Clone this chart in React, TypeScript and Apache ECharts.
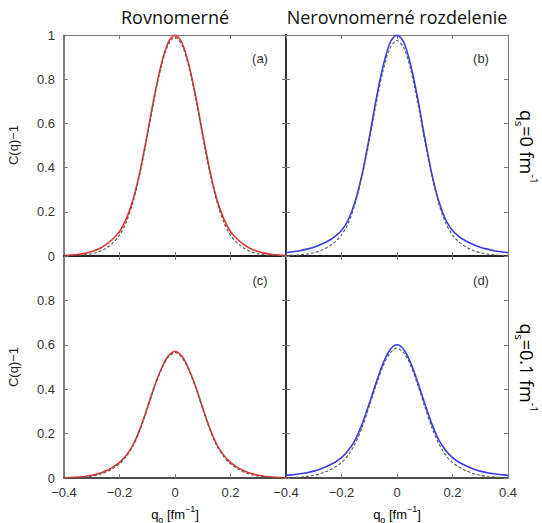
import React, { useEffect, useRef } from 'react';
import * as echarts from 'echarts';

const qValues = [-0.4, -0.375, -0.35, -0.325, -0.3, -0.275, -0.25, -0.225, -0.2, -0.175, -0.15, -0.125, -0.1, -0.075, -0.05, -0.025, 0, 0.025, 0.05, 0.075, 0.1, 0.125, 0.15, 0.175, 0.2, 0.225, 0.25, 0.275, 0.3, 0.325, 0.35, 0.375, 0.4];

const redA = [0.002, 0.004, 0.007, 0.012, 0.02, 0.032, 0.05, 0.076, 0.11, 0.17, 0.26, 0.39, 0.55, 0.72, 0.865, 0.965, 1.0, 0.965, 0.865, 0.72, 0.55, 0.39, 0.26, 0.17, 0.11, 0.076, 0.05, 0.032, 0.02, 0.012, 0.007, 0.004, 0.002];
const dashA = [0.0, 0.001, 0.002, 0.005, 0.01, 0.019, 0.034, 0.058, 0.094, 0.155, 0.25, 0.38, 0.54, 0.71, 0.855, 0.955, 0.99, 0.955, 0.855, 0.71, 0.54, 0.38, 0.25, 0.155, 0.094, 0.058, 0.034, 0.019, 0.01, 0.005, 0.002, 0.001, 0.0];
const blueB = [0.015, 0.019, 0.024, 0.031, 0.04, 0.052, 0.067, 0.087, 0.115, 0.165, 0.25, 0.375, 0.535, 0.71, 0.86, 0.965, 1.0, 0.965, 0.86, 0.71, 0.535, 0.375, 0.25, 0.165, 0.115, 0.087, 0.067, 0.052, 0.04, 0.031, 0.024, 0.019, 0.015];
const dashB = [0.002, 0.003, 0.005, 0.009, 0.015, 0.025, 0.04, 0.062, 0.095, 0.15, 0.24, 0.365, 0.52, 0.69, 0.84, 0.94, 0.975, 0.94, 0.84, 0.69, 0.52, 0.365, 0.24, 0.15, 0.095, 0.062, 0.04, 0.025, 0.015, 0.009, 0.005, 0.003, 0.002];
const redC = [0.001, 0.002, 0.004, 0.007, 0.012, 0.02, 0.032, 0.048, 0.07, 0.103, 0.152, 0.225, 0.315, 0.41, 0.49, 0.548, 0.57, 0.548, 0.49, 0.41, 0.315, 0.225, 0.152, 0.103, 0.07, 0.048, 0.032, 0.02, 0.012, 0.007, 0.004, 0.002, 0.001];
const dashC = [0.0, 0.001, 0.002, 0.004, 0.008, 0.015, 0.026, 0.042, 0.064, 0.097, 0.147, 0.22, 0.31, 0.405, 0.485, 0.543, 0.565, 0.543, 0.485, 0.405, 0.31, 0.22, 0.147, 0.097, 0.064, 0.042, 0.026, 0.015, 0.008, 0.004, 0.002, 0.001, 0.0];
const blueD = [0.012, 0.015, 0.019, 0.024, 0.031, 0.041, 0.054, 0.07, 0.092, 0.125, 0.173, 0.245, 0.335, 0.43, 0.517, 0.578, 0.60, 0.578, 0.517, 0.43, 0.335, 0.245, 0.173, 0.125, 0.092, 0.07, 0.054, 0.041, 0.031, 0.024, 0.019, 0.015, 0.012];
const dashD = [0.001, 0.002, 0.004, 0.007, 0.012, 0.02, 0.032, 0.048, 0.07, 0.104, 0.156, 0.23, 0.322, 0.418, 0.505, 0.563, 0.585, 0.563, 0.505, 0.418, 0.322, 0.23, 0.156, 0.104, 0.07, 0.048, 0.032, 0.02, 0.012, 0.007, 0.004, 0.002, 0.001];

const columnTitles = ['Rovnomerné', 'Nerovnomerné rozdelenie'];
const panelLabels = ['(a)', '(b)', '(c)', '(d)'];
const rowLabels = ['0', '0.1'];

const RED = '#e8302f';
const BLUE = '#3a3af0';
const GRAY = '#555555';
const LABEL_FONT = 'Liberation Sans, Arial, sans-serif';
const TITLE_FONT = 'Open Sans, Noto Sans, sans-serif';

const pair = (ys: number[]) => qValues.map((q, i) => [q, ys[i]]);

const fmt = (v: number) => {
  const r = Math.round(v * 10) / 10;
  if (r === 0) return '0';
  return r < 0 ? '\u2212' + String(Math.abs(r)) : String(r);
};

export default function App() {
  const ref = useRef<HTMLDivElement>(null);
  useEffect(() => {
    if (!ref.current) return;
    const chart = echarts.init(ref.current, undefined, { renderer: 'svg' });

    const grids = [
      { left: 64, top: 35, width: 222, height: 221 },
      { left: 286, top: 35, width: 222, height: 221 },
      { left: 64, top: 256, width: 222, height: 222 },
      { left: 286, top: 256, width: 222, height: 222 },
    ];

    const xAxes: any[] = [];
    const yAxes: any[] = [];
    grids.forEach((_, g) => {
      const isBottom = g >= 2;
      const isLeft = g % 2 === 0;
      xAxes.push({
        gridIndex: g, type: 'value', min: -0.4, max: 0.4, interval: 0.2, position: 'bottom',
        axisLine: { show: true, onZero: false, lineStyle: { color: '#111', width: 1.5 } },
        axisTick: { show: true, inside: true, length: 4, lineStyle: { color: '#777' } },
        axisLabel: {
          show: isBottom, margin: 8, color: '#333', fontSize: 13, fontFamily: LABEL_FONT,
          formatter: (v: number) => (isLeft && Math.abs(v - 0.4) < 1e-6 ? '' : fmt(v)),
        },
        splitLine: { show: false },
      });
      xAxes.push({
        gridIndex: g, type: 'value', min: -0.4, max: 0.4, interval: 0.2, position: 'top',
        axisLine: { show: true, onZero: false, lineStyle: { color: isBottom ? '#111' : '#777', width: isBottom ? 1.5 : 1 } },
        axisTick: { show: true, inside: true, length: 4, lineStyle: { color: '#777' } },
        axisLabel: { show: false },
        splitLine: { show: false },
      });
      yAxes.push({
        gridIndex: g, type: 'value', min: 0, max: 1, interval: 0.2, position: 'left',
        axisLine: { show: true, onZero: false, lineStyle: { color: isLeft ? '#555' : '#333', width: isLeft ? 1.5 : 2 } },
        axisTick: { show: true, inside: true, length: 4, lineStyle: { color: '#777' } },
        axisLabel: {
          show: isLeft, margin: 9, color: '#333', fontSize: 13, fontFamily: LABEL_FONT,
          formatter: (v: number) => (isBottom && Math.abs(v - 1) < 1e-6 ? '' : fmt(v)),
        },
        splitLine: { show: false },
      });
      yAxes.push({
        gridIndex: g, type: 'value', min: 0, max: 1, interval: 0.2, position: 'right',
        axisLine: { show: true, onZero: false, lineStyle: { color: isLeft ? '#333' : '#777', width: isLeft ? 2 : 1 } },
        axisTick: { show: true, inside: true, length: 4, lineStyle: { color: '#777' } },
        axisLabel: { show: false },
        splitLine: { show: false },
      });
    });

    const panels = [
      { solid: redA, dash: dashA, color: RED },
      { solid: blueB, dash: dashB, color: BLUE },
      { solid: redC, dash: dashC, color: RED },
      { solid: blueD, dash: dashD, color: BLUE },
    ];
    const series: any[] = [];
    panels.forEach((p, g) => {
      series.push({
        type: 'line', xAxisIndex: g * 2, yAxisIndex: g * 2, data: pair(p.solid),
        showSymbol: false, smooth: 0.3, z: 2,
        lineStyle: { color: p.color, width: 1.6 },
      });
      series.push({
        type: 'line', xAxisIndex: g * 2, yAxisIndex: g * 2, data: pair(p.dash),
        showSymbol: false, smooth: 0.3, z: 3,
        lineStyle: { color: GRAY, width: 1.1, type: [3, 2] },
      });
    });

    const subRich = {
      b: { fontSize: 13, lineHeight: 20, fontFamily: LABEL_FONT, color: '#222' },
      sub: { fontSize: 9, lineHeight: 10, fontFamily: LABEL_FONT, color: '#222', verticalAlign: 'bottom' },
      sup: { fontSize: 9, lineHeight: 10, fontFamily: LABEL_FONT, color: '#222', verticalAlign: 'top' },
    };
    const bigRich = {
      b: { fontSize: 18, lineHeight: 26, fontFamily: TITLE_FONT, color: '#111' },
      sub: { fontSize: 11, lineHeight: 12, fontFamily: TITLE_FONT, color: '#111', verticalAlign: 'bottom' },
      sup: { fontSize: 11, lineHeight: 12, fontFamily: TITLE_FONT, color: '#111', verticalAlign: 'top' },
    };

    const graphic: any[] = [
      { type: 'text', x: 175, y: 17, style: { text: columnTitles[0], fontSize: 18, fontFamily: TITLE_FONT, fill: '#111', align: 'center', verticalAlign: 'middle' } },
      { type: 'text', x: 397, y: 17, style: { text: columnTitles[1], fontSize: 18, fontFamily: TITLE_FONT, fill: '#111', align: 'center', verticalAlign: 'middle' } },
      { type: 'text', x: 13, y: 145, rotation: Math.PI / 2, style: { text: 'C(q)\u22121', fontSize: 13, fontFamily: LABEL_FONT, fill: '#222', align: 'center', verticalAlign: 'middle' } },
      { type: 'text', x: 13, y: 367, rotation: Math.PI / 2, style: { text: 'C(q)\u22121', fontSize: 13, fontFamily: LABEL_FONT, fill: '#222', align: 'center', verticalAlign: 'middle' } },
      { type: 'text', x: 175, y: 514, style: { text: '{b|q}{sub|o}{b| [fm}{sup|\u22121}{b|]}', rich: subRich, align: 'center', verticalAlign: 'middle' } },
      { type: 'text', x: 397, y: 514, style: { text: '{b|q}{sub|o}{b| [fm}{sup|\u22121}{b|]}', rich: subRich, align: 'center', verticalAlign: 'middle' } },
      { type: 'text', x: 527, y: 147, rotation: -Math.PI / 2, style: { text: '{b|q}{sub|s}{b|=' + rowLabels[0] + ' fm}{sup|-1}', rich: bigRich, align: 'center', verticalAlign: 'middle' } },
      { type: 'text', x: 527, y: 368, rotation: -Math.PI / 2, style: { text: '{b|q}{sub|s}{b|=' + rowLabels[1] + ' fm}{sup|-1}', rich: bigRich, align: 'center', verticalAlign: 'middle' } },
    ];
    const labelPos = [[260, 58], [481, 58], [260, 280], [481, 280]];
    panelLabels.forEach((t, i) => {
      graphic.push({ type: 'text', x: labelPos[i][0], y: labelPos[i][1], style: { text: t, fontSize: 13, fontFamily: LABEL_FONT, fill: '#333', align: 'center', verticalAlign: 'middle' } });
    });

    chart.setOption({
      animation: false,
      backgroundColor: '#ffffff',
      grid: grids,
      xAxis: xAxes,
      yAxis: yAxes,
      series,
      graphic,
    });
    return () => chart.dispose();
  }, []);
  return <div ref={ref} style={{ position: 'fixed', left: 0, top: 0, width: 542, height: 523 }} />;
}
